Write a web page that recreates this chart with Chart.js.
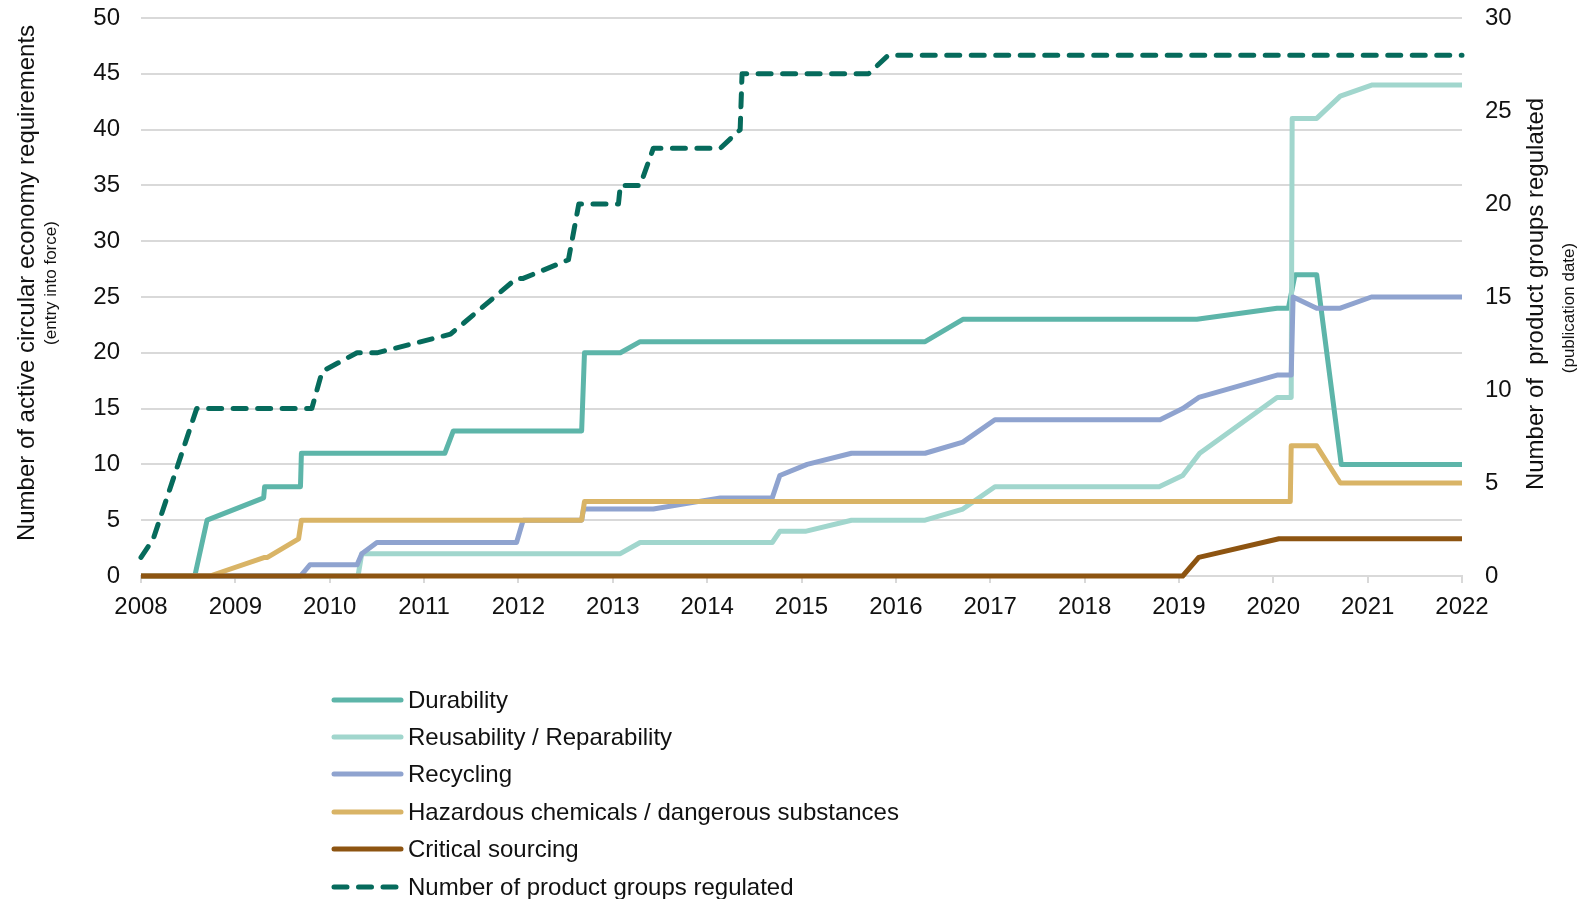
<!DOCTYPE html>
<html>
<head>
<meta charset="utf-8">
<script src="https://cdn.jsdelivr.net/npm/chart.js@4.4.0/dist/chart.umd.min.js"></script>
<style>
  body { margin: 0; background: #fff; font-family: Arial, "Liberation Sans", sans-serif; }
  #wrap { position: relative; width: 1581px; height: 650px; }
  #legend { position: absolute; left: 329px; top: 681px; }
  #legend .item { display: flex; align-items: center; height: 37.4px; font-size: 24px; color: #111; }
  #legend canvas { margin-right: 1px; }
</style>
</head>
<body>
<div id="wrap"><canvas id="myChart"></canvas></div>
<div id="legend"></div>
<script>
// series (x = fractional year, y = value). left axis: requirements, right axis: product groups
const durabilityYears = [2008, 2008.57, 2008.70, 2009.30, 2009.31, 2009.69, 2009.70, 2011.22, 2011.31, 2012.67, 2012.70, 2013.08, 2013.29, 2016.31, 2016.71, 2019.19, 2020.04, 2020.16, 2020.23, 2020.46, 2020.72, 2022]
const durabilityValues = [0, 0, 5, 7, 8, 8, 11, 11, 13, 13, 20, 20, 21, 21, 23, 23, 24, 24, 27, 27, 10, 10]

const reusabilityYears = [2008, 2010.30, 2010.34, 2013.08, 2013.29, 2014.69, 2014.77, 2015.04, 2015.53, 2016.31, 2016.71, 2017.05, 2018.79, 2019.04, 2019.22, 2020.04, 2020.19, 2020.20, 2020.46, 2020.71, 2021.05, 2022]
const reusabilityValues = [0, 0, 2, 2, 3, 3, 4, 4, 5, 5, 6, 8, 8, 9, 11, 16, 16, 41, 41, 43, 44, 44]

const recyclingYears = [2008, 2009.69, 2009.79, 2010.29, 2010.34, 2010.50, 2011.98, 2012.05, 2012.67, 2012.69, 2013.43, 2014.14, 2014.69, 2014.77, 2015.06, 2015.53, 2016.31, 2016.71, 2017.05, 2018.80, 2019.04, 2019.21, 2020.04, 2020.19, 2020.21, 2020.46, 2020.71, 2021.04, 2022]
const recyclingValues = [0, 0, 1, 1, 2, 3, 3, 5, 5, 6, 6, 7, 7, 9, 10, 11, 11, 12, 14, 14, 15, 16, 18, 18, 25, 24, 24, 25, 25]

const hazardousYears = [2008, 2008.73, 2009.31, 2009.34, 2009.67, 2009.70, 2012.67, 2012.70, 2020.18, 2020.19, 2020.46, 2020.71, 2022]
const hazardousValues = [0, 0, 1, 1, 2, 3, 3, 4, 4, 7, 7, 5, 5]

const criticalYears = [2008, 2019.04, 2019.21, 2020.06, 2022]
const criticalValues = [0, 0, 1, 2, 2]

const groupsYears = [2008, 2008.13, 2008.59, 2009.81, 2009.92, 2010.29, 2010.50, 2011.28, 2011.98, 2012.05, 2012.53, 2012.64, 2013.06, 2013.08, 2013.29, 2013.43, 2014.14, 2014.35, 2014.37, 2015.71, 2015.92, 2022]
const groupsValues = [1, 2, 9, 9, 11, 12, 12, 13, 16, 16, 17, 20, 20, 21, 21, 23, 23, 24, 27, 27, 28, 28]

const pts = (xs, ys) => xs.map((x, i) => ({ x: x, y: ys[i] }))

Chart.defaults.font.family = 'Arial, "Liberation Sans", sans-serif'
Chart.defaults.color = '#111'

// rotated axis titles with a smaller second line
const axisTitles = {
  id: 'axisTitles',
  afterDraw(chart) {
    const ctx = chart.ctx
    const rot = (text, x, y, size) => {
      ctx.save()
      ctx.translate(x, y)
      ctx.rotate(-Math.PI / 2)
      ctx.font = size + 'px Arial, "Liberation Sans", sans-serif'
      ctx.fillStyle = '#111'
      ctx.textAlign = 'center'
      ctx.textBaseline = 'middle'
      ctx.fillText(text, 0, 0)
      ctx.restore()
    }
    rot('Number of active circular economy requirements', 27, 283, 24)
    rot('(entry into force)', 51, 283, 17)
    rot('Number of  product groups regulated', 1536, 294, 24)
    rot('(publication date)', 1569, 308, 17)
  }
}

const line = (label, data, color, axis, order, extra) => Object.assign({
  label: label,
  data: data,
  borderColor: color,
  backgroundColor: color,
  borderWidth: 5,
  pointRadius: 0,
  tension: 0,
  fill: false,
  clip: 8,
  yAxisID: axis,
  order: order,
  borderJoinStyle: 'round'
}, extra || {})

// y axes: fixed width, and no extra top/bottom padding from tick labels
const fixY = w => s => { s.width = w; s.paddingTop = 0; s.paddingBottom = 0 }

const config = {
  type: 'line',
  data: {
    datasets: [
      line('Durability', pts(durabilityYears, durabilityValues), '#5db5a9', 'y', 6),
      line('Reusability / Reparability', pts(reusabilityYears, reusabilityValues), '#a1d6cd', 'y', 5),
      line('Recycling', pts(recyclingYears, recyclingValues), '#8fa3cf', 'y', 4),
      line('Hazardous chemicals / dangerous substances', pts(hazardousYears, hazardousValues), '#d9b466', 'y2', 3),
      line('Critical sourcing', pts(criticalYears, criticalValues), '#8d5411', 'y2', 2),
      line('Number of product groups regulated', pts(groupsYears, groupsValues), '#066b5c', 'y2', 1,
        { borderDash: [13, 11.5], borderCapStyle: 'round', borderWidth: 5 })
    ]
  },
  options: {
    responsive: true,
    maintainAspectRatio: false,
    animation: false,
    layout: { padding: { top: 18, left: 0, right: 0, bottom: 0 } },
    plugins: { legend: { display: false }, tooltip: { enabled: false } },
    scales: {
      x: {
        type: 'linear',
        min: 2008,
        max: 2022,
        grid: { drawOnChartArea: false, drawTicks: true, tickLength: 7, color: '#d9d9d9', lineWidth: 2 },
        border: { display: true, color: '#d9d9d9', width: 2 },
        ticks: { stepSize: 1, padding: 10, font: { size: 24 }, maxRotation: 0, callback: v => String(v) },
        afterFit: s => { s.height = 74 }
      },
      y: {
        position: 'left',
        min: 0,
        max: 50,
        grid: { color: '#d9d9d9', lineWidth: 2, drawTicks: false },
        border: { display: false },
        ticks: { stepSize: 5, padding: 21, font: { size: 24 } },
        afterFit: fixY(141)
      },
      y2: {
        position: 'right',
        min: 0,
        max: 30,
        grid: { display: false, drawTicks: false },
        border: { display: false },
        ticks: { stepSize: 5, padding: 23, font: { size: 24 } },
        afterFit: fixY(119)
      }
    }
  },
  plugins: [axisTitles]
}

const myChart = new Chart(document.getElementById('myChart'), config)

// legend below the chart, one entry per row
const legendBox = document.getElementById('legend')
myChart.data.datasets.forEach(ds => {
  const row = document.createElement('div')
  row.className = 'item'
  const c = document.createElement('canvas')
  c.width = 78
  c.height = 12
  const g = c.getContext('2d')
  g.strokeStyle = ds.borderColor
  g.lineWidth = 5
  g.lineCap = 'round'
  if (ds.borderDash) g.setLineDash(ds.borderDash)
  g.beginPath()
  g.moveTo(5, 6)
  g.lineTo(72, 6)
  g.stroke()
  const t = document.createElement('span')
  t.textContent = ds.label
  row.appendChild(c)
  row.appendChild(t)
  legendBox.appendChild(row)
})
</script>
</body>
</html>
